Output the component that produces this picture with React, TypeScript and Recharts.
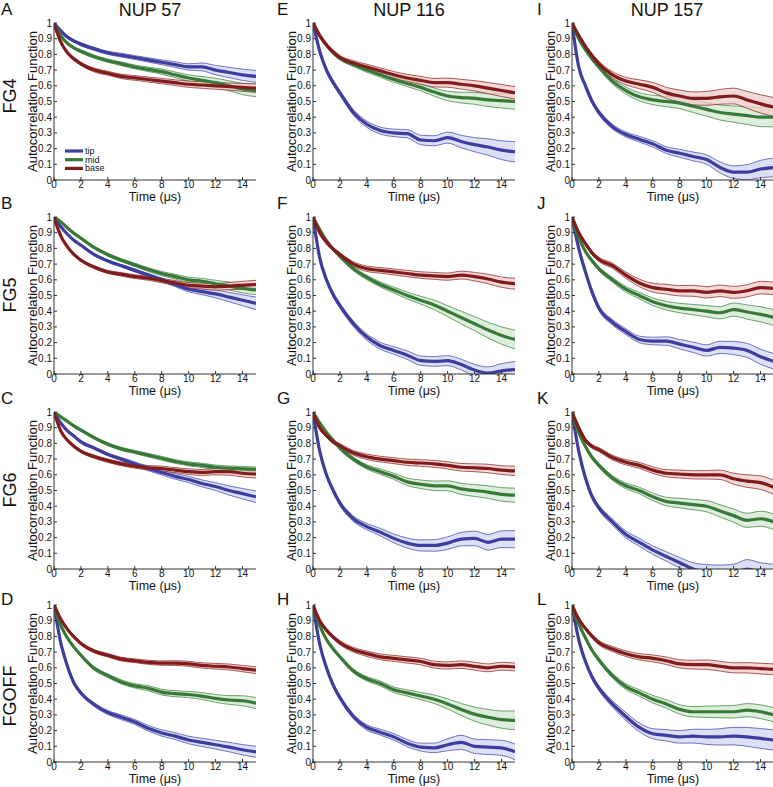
import React from 'react';
import { ComposedChart, Area, Line, XAxis, YAxis, Legend } from 'recharts';

// ---------- shared axes / labels ----------
const TIME = [0, 0.5, 1, 1.5, 2, 3, 4, 5, 6, 7, 8, 9, 10, 11, 12, 13, 14, 15];
const X_TICKS = [0, 2, 4, 6, 8, 10, 12, 14];
const Y_TICKS = [0, 0.1, 0.2, 0.3, 0.4, 0.5, 0.6, 0.7, 0.8, 0.9, 1];
const SERIES_NAMES = ['tip', 'mid', 'base'];
const COLUMN_TITLES = ['NUP 57', 'NUP 116', 'NUP 157'];
const ROW_LABELS = ['FG4', 'FG5', 'FG6', 'FGOFF'];
const PANEL_LETTERS = [['A', 'E', 'I'], ['B', 'F', 'J'], ['C', 'G', 'K'], ['D', 'H', 'L']];
const X_LABEL = 'Time (μs)';
const Y_LABEL = 'Autocorrelation Function';

// ---------- Panel A: NUP 57 / FG4 ----------
const A_tip = [1, 0.95, 0.91, 0.885, 0.865, 0.835, 0.81, 0.795, 0.78, 0.765, 0.75, 0.735, 0.72, 0.72, 0.7, 0.685, 0.67, 0.66];
const A_tipErr = [0, 0.005, 0.008, 0.008, 0.01, 0.01, 0.01, 0.012, 0.012, 0.014, 0.015, 0.018, 0.02, 0.025, 0.03, 0.033, 0.036, 0.038];
const A_mid = [1, 0.92, 0.87, 0.84, 0.82, 0.785, 0.76, 0.74, 0.72, 0.705, 0.69, 0.67, 0.65, 0.635, 0.62, 0.6, 0.58, 0.57];
const A_midErr = [0, 0.005, 0.008, 0.008, 0.01, 0.01, 0.01, 0.012, 0.012, 0.014, 0.016, 0.018, 0.02, 0.024, 0.028, 0.032, 0.036, 0.04];
const A_base = [1, 0.88, 0.81, 0.77, 0.74, 0.7, 0.68, 0.66, 0.65, 0.64, 0.63, 0.62, 0.61, 0.605, 0.6, 0.595, 0.59, 0.585];
const A_baseErr = [0, 0.006, 0.008, 0.01, 0.01, 0.012, 0.012, 0.014, 0.015, 0.016, 0.017, 0.018, 0.02, 0.021, 0.022, 0.023, 0.025, 0.027];

// ---------- Panel B: NUP 57 / FG5 ----------
const B_tip = [1, 0.94, 0.89, 0.85, 0.82, 0.76, 0.72, 0.69, 0.66, 0.63, 0.6, 0.57, 0.54, 0.525, 0.51, 0.49, 0.47, 0.45];
const B_tipErr = [0, 0.004, 0.005, 0.005, 0.006, 0.006, 0.007, 0.008, 0.009, 0.01, 0.012, 0.014, 0.017, 0.02, 0.025, 0.03, 0.035, 0.04];
const B_mid = [1, 0.97, 0.93, 0.895, 0.865, 0.805, 0.76, 0.725, 0.695, 0.665, 0.64, 0.62, 0.6, 0.59, 0.575, 0.56, 0.545, 0.535];
const B_midErr = [0, 0.004, 0.006, 0.006, 0.007, 0.008, 0.009, 0.01, 0.011, 0.012, 0.013, 0.015, 0.017, 0.019, 0.022, 0.025, 0.028, 0.03];
const B_base = [1, 0.88, 0.81, 0.76, 0.725, 0.68, 0.65, 0.635, 0.62, 0.61, 0.595, 0.58, 0.565, 0.56, 0.555, 0.56, 0.565, 0.57];
const B_baseErr = [0, 0.005, 0.007, 0.008, 0.008, 0.009, 0.01, 0.011, 0.012, 0.013, 0.014, 0.015, 0.017, 0.019, 0.021, 0.023, 0.025, 0.027];

// ---------- Panel C: NUP 57 / FG6 ----------
const C_tip = [1, 0.93, 0.88, 0.845, 0.81, 0.77, 0.73, 0.7, 0.67, 0.64, 0.615, 0.59, 0.57, 0.545, 0.525, 0.5, 0.48, 0.46];
const C_tipErr = [0, 0.005, 0.006, 0.007, 0.008, 0.008, 0.009, 0.01, 0.012, 0.014, 0.016, 0.018, 0.02, 0.022, 0.025, 0.029, 0.033, 0.037];
const C_mid = [1, 0.97, 0.94, 0.91, 0.885, 0.835, 0.795, 0.765, 0.745, 0.725, 0.705, 0.685, 0.67, 0.66, 0.648, 0.642, 0.638, 0.635];
const C_midErr = [0, 0.004, 0.006, 0.007, 0.008, 0.008, 0.009, 0.01, 0.01, 0.011, 0.012, 0.012, 0.013, 0.013, 0.014, 0.014, 0.015, 0.015];
const C_base = [1, 0.88, 0.82, 0.78, 0.75, 0.715, 0.69, 0.67, 0.655, 0.645, 0.64, 0.63, 0.62, 0.615, 0.62, 0.62, 0.61, 0.605];
const C_baseErr = [0, 0.005, 0.007, 0.008, 0.009, 0.01, 0.011, 0.012, 0.013, 0.014, 0.015, 0.016, 0.018, 0.019, 0.02, 0.022, 0.024, 0.025];

// ---------- Panel D: NUP 57 / FGOFF ----------
const D_tip = [1, 0.76, 0.61, 0.5, 0.44, 0.365, 0.315, 0.285, 0.255, 0.215, 0.185, 0.165, 0.14, 0.125, 0.11, 0.095, 0.078, 0.065];
const D_tipErr = [0, 0.008, 0.01, 0.01, 0.01, 0.012, 0.013, 0.015, 0.016, 0.018, 0.02, 0.022, 0.024, 0.026, 0.028, 0.03, 0.033, 0.035];
const D_mid = [1, 0.87, 0.79, 0.73, 0.68, 0.595, 0.55, 0.51, 0.485, 0.47, 0.445, 0.435, 0.43, 0.42, 0.405, 0.395, 0.39, 0.375];
const D_midErr = [0, 0.006, 0.008, 0.009, 0.01, 0.011, 0.012, 0.013, 0.014, 0.016, 0.018, 0.019, 0.02, 0.022, 0.025, 0.028, 0.032, 0.035];
const D_base = [1, 0.91, 0.845, 0.795, 0.755, 0.705, 0.68, 0.655, 0.645, 0.635, 0.63, 0.63, 0.625, 0.615, 0.61, 0.605, 0.595, 0.585];
const D_baseErr = [0, 0.005, 0.007, 0.008, 0.009, 0.01, 0.011, 0.012, 0.012, 0.013, 0.014, 0.015, 0.016, 0.017, 0.018, 0.019, 0.02, 0.022];

// ---------- Panel E: NUP 116 / FG4 ----------
const E_tip = [1, 0.82, 0.7, 0.62, 0.555, 0.43, 0.355, 0.315, 0.3, 0.295, 0.255, 0.25, 0.27, 0.245, 0.225, 0.21, 0.19, 0.18];
const E_tipErr = [0, 0.01, 0.012, 0.014, 0.015, 0.018, 0.02, 0.022, 0.024, 0.026, 0.03, 0.032, 0.035, 0.04, 0.045, 0.052, 0.06, 0.065];
const E_mid = [1, 0.92, 0.86, 0.81, 0.775, 0.735, 0.7, 0.67, 0.64, 0.615, 0.59, 0.56, 0.535, 0.525, 0.52, 0.51, 0.505, 0.5];
const E_midErr = [0, 0.006, 0.008, 0.009, 0.01, 0.012, 0.014, 0.016, 0.018, 0.02, 0.023, 0.026, 0.03, 0.034, 0.038, 0.042, 0.046, 0.05];
const E_base = [1, 0.92, 0.86, 0.815, 0.78, 0.745, 0.72, 0.695, 0.67, 0.65, 0.635, 0.62, 0.62, 0.61, 0.6, 0.585, 0.57, 0.555];
const E_baseErr = [0, 0.008, 0.01, 0.012, 0.013, 0.015, 0.017, 0.019, 0.021, 0.023, 0.025, 0.027, 0.029, 0.031, 0.033, 0.036, 0.038, 0.04];

// ---------- Panel F: NUP 116 / FG5 ----------
const F_tip = [1, 0.74, 0.6, 0.505, 0.435, 0.32, 0.235, 0.18, 0.15, 0.12, 0.085, 0.08, 0.085, 0.06, 0.025, 0.005, 0.02, 0.03];
const F_tipErr = [0, 0.01, 0.012, 0.014, 0.015, 0.018, 0.02, 0.022, 0.024, 0.027, 0.03, 0.031, 0.032, 0.034, 0.036, 0.04, 0.046, 0.05];
const F_mid = [1, 0.92, 0.85, 0.795, 0.75, 0.67, 0.615, 0.57, 0.535, 0.5, 0.47, 0.44, 0.4, 0.36, 0.32, 0.28, 0.245, 0.22];
const F_midErr = [0, 0.006, 0.008, 0.009, 0.01, 0.012, 0.014, 0.016, 0.019, 0.022, 0.025, 0.03, 0.035, 0.04, 0.045, 0.05, 0.055, 0.06];
const F_base = [1, 0.9, 0.84, 0.795, 0.76, 0.7, 0.67, 0.66, 0.65, 0.64, 0.63, 0.625, 0.62, 0.63, 0.62, 0.605, 0.585, 0.575];
const F_baseErr = [0, 0.008, 0.01, 0.012, 0.013, 0.015, 0.017, 0.018, 0.019, 0.02, 0.021, 0.022, 0.023, 0.025, 0.027, 0.03, 0.033, 0.035];

// ---------- Panel G: NUP 116 / FG6 ----------
const G_tip = [1, 0.75, 0.6, 0.5, 0.42, 0.32, 0.27, 0.235, 0.195, 0.165, 0.15, 0.15, 0.165, 0.19, 0.195, 0.17, 0.19, 0.19];
const G_tipErr = [0, 0.01, 0.012, 0.014, 0.015, 0.018, 0.02, 0.024, 0.028, 0.032, 0.035, 0.037, 0.04, 0.043, 0.046, 0.05, 0.053, 0.055];
const G_mid = [1, 0.93, 0.87, 0.82, 0.77, 0.7, 0.65, 0.62, 0.59, 0.555, 0.54, 0.53, 0.53, 0.51, 0.5, 0.49, 0.475, 0.47];
const G_midErr = [0, 0.006, 0.008, 0.009, 0.01, 0.012, 0.014, 0.017, 0.02, 0.024, 0.027, 0.03, 0.032, 0.035, 0.038, 0.04, 0.043, 0.045];
const G_base = [1, 0.9, 0.85, 0.81, 0.785, 0.74, 0.715, 0.7, 0.69, 0.68, 0.675, 0.67, 0.66, 0.648, 0.645, 0.64, 0.63, 0.625];
const G_baseErr = [0, 0.008, 0.01, 0.012, 0.013, 0.015, 0.017, 0.018, 0.019, 0.02, 0.021, 0.022, 0.023, 0.024, 0.025, 0.027, 0.028, 0.03];

// ---------- Panel H: NUP 116 / FGOFF ----------
const H_tip = [1, 0.75, 0.6, 0.49, 0.41, 0.29, 0.22, 0.19, 0.16, 0.12, 0.095, 0.09, 0.11, 0.125, 0.1, 0.095, 0.09, 0.065];
const H_tipErr = [0, 0.01, 0.012, 0.013, 0.014, 0.015, 0.017, 0.019, 0.021, 0.023, 0.025, 0.03, 0.038, 0.045, 0.046, 0.047, 0.048, 0.05];
const H_mid = [1, 0.87, 0.78, 0.72, 0.67, 0.58, 0.53, 0.5, 0.46, 0.44, 0.42, 0.4, 0.37, 0.335, 0.305, 0.285, 0.27, 0.265];
const H_midErr = [0, 0.006, 0.008, 0.009, 0.01, 0.012, 0.014, 0.016, 0.018, 0.02, 0.023, 0.027, 0.032, 0.038, 0.045, 0.05, 0.055, 0.06];
const H_base = [1, 0.9, 0.84, 0.795, 0.76, 0.715, 0.69, 0.67, 0.66, 0.65, 0.64, 0.62, 0.615, 0.62, 0.61, 0.6, 0.61, 0.605];
const H_baseErr = [0, 0.008, 0.01, 0.012, 0.013, 0.015, 0.017, 0.018, 0.019, 0.02, 0.021, 0.022, 0.023, 0.024, 0.025, 0.025, 0.025, 0.025];

// ---------- Panel I: NUP 157 / FG4 ----------
const I_tip = [1, 0.72, 0.6, 0.5, 0.43, 0.34, 0.29, 0.26, 0.23, 0.19, 0.17, 0.15, 0.13, 0.08, 0.05, 0.05, 0.07, 0.08];
const I_tipErr = [0, 0.01, 0.012, 0.013, 0.014, 0.015, 0.016, 0.018, 0.02, 0.022, 0.025, 0.028, 0.03, 0.035, 0.04, 0.048, 0.055, 0.06];
const I_mid = [1, 0.9, 0.83, 0.77, 0.72, 0.63, 0.57, 0.53, 0.51, 0.5, 0.49, 0.47, 0.45, 0.43, 0.42, 0.41, 0.4, 0.4];
const I_midErr = [0, 0.007, 0.01, 0.012, 0.014, 0.018, 0.022, 0.026, 0.03, 0.033, 0.036, 0.04, 0.044, 0.048, 0.052, 0.056, 0.06, 0.062];
const I_base = [1, 0.92, 0.85, 0.79, 0.74, 0.67, 0.63, 0.61, 0.59, 0.555, 0.535, 0.52, 0.52, 0.53, 0.535, 0.51, 0.485, 0.465];
const I_baseErr = [0, 0.01, 0.013, 0.015, 0.017, 0.02, 0.024, 0.028, 0.032, 0.035, 0.038, 0.041, 0.044, 0.047, 0.05, 0.054, 0.058, 0.06];

// ---------- Panel J: NUP 157 / FG5 ----------
const J_tip = [1, 0.8, 0.65, 0.52, 0.42, 0.33, 0.27, 0.22, 0.21, 0.21, 0.19, 0.17, 0.15, 0.17, 0.165, 0.15, 0.11, 0.08];
const J_tipErr = [0, 0.01, 0.012, 0.014, 0.015, 0.017, 0.019, 0.021, 0.024, 0.027, 0.03, 0.033, 0.036, 0.039, 0.042, 0.045, 0.048, 0.05];
const J_mid = [1, 0.87, 0.78, 0.72, 0.67, 0.6, 0.54, 0.5, 0.46, 0.435, 0.42, 0.41, 0.4, 0.39, 0.41, 0.395, 0.38, 0.36];
const J_midErr = [0, 0.006, 0.008, 0.01, 0.012, 0.015, 0.018, 0.021, 0.024, 0.027, 0.03, 0.033, 0.036, 0.039, 0.042, 0.045, 0.048, 0.05];
const J_base = [1, 0.9, 0.83, 0.77, 0.73, 0.69, 0.63, 0.58, 0.55, 0.54, 0.53, 0.53, 0.52, 0.53, 0.52, 0.53, 0.55, 0.545];
const J_baseErr = [0, 0.008, 0.01, 0.012, 0.014, 0.016, 0.02, 0.024, 0.028, 0.031, 0.033, 0.035, 0.036, 0.037, 0.038, 0.039, 0.04, 0.04];

// ---------- Panel K: NUP 157 / FG6 ----------
const K_tip = [1, 0.75, 0.58, 0.46, 0.39, 0.3, 0.22, 0.17, 0.12, 0.08, 0.04, 0.0, -0.02, -0.03, -0.03, 0.0, -0.02, -0.03];
const K_tipErr = [0, 0.01, 0.012, 0.014, 0.016, 0.02, 0.022, 0.025, 0.027, 0.03, 0.033, 0.04, 0.048, 0.055, 0.06, 0.06, 0.06, 0.06];
const K_mid = [1, 0.87, 0.78, 0.71, 0.66, 0.58, 0.53, 0.5, 0.46, 0.43, 0.42, 0.41, 0.4, 0.37, 0.34, 0.31, 0.32, 0.3];
const K_midErr = [0, 0.006, 0.008, 0.01, 0.012, 0.015, 0.018, 0.021, 0.024, 0.027, 0.03, 0.033, 0.036, 0.039, 0.042, 0.045, 0.048, 0.05];
const K_base = [1, 0.9, 0.82, 0.78, 0.76, 0.71, 0.68, 0.66, 0.63, 0.61, 0.605, 0.6, 0.6, 0.6, 0.575, 0.56, 0.55, 0.52];
const K_baseErr = [0, 0.008, 0.01, 0.012, 0.013, 0.015, 0.017, 0.019, 0.021, 0.023, 0.025, 0.026, 0.027, 0.03, 0.035, 0.04, 0.043, 0.045];

// ---------- Panel L: NUP 157 / FGOFF ----------
const L_tip = [1, 0.78, 0.64, 0.54, 0.47, 0.37, 0.29, 0.22, 0.18, 0.17, 0.16, 0.165, 0.16, 0.16, 0.165, 0.16, 0.15, 0.14];
const L_tipErr = [0, 0.01, 0.012, 0.014, 0.016, 0.02, 0.025, 0.028, 0.032, 0.036, 0.04, 0.044, 0.048, 0.052, 0.056, 0.06, 0.063, 0.065];
const L_mid = [1, 0.88, 0.79, 0.71, 0.65, 0.55, 0.48, 0.44, 0.4, 0.37, 0.335, 0.32, 0.32, 0.32, 0.32, 0.33, 0.32, 0.3];
const L_midErr = [0, 0.006, 0.008, 0.01, 0.012, 0.015, 0.018, 0.021, 0.024, 0.027, 0.03, 0.033, 0.036, 0.038, 0.04, 0.042, 0.044, 0.045];
const L_base = [1, 0.91, 0.85, 0.8, 0.76, 0.72, 0.69, 0.67, 0.66, 0.645, 0.625, 0.62, 0.62, 0.61, 0.6, 0.6, 0.595, 0.59];
const L_baseErr = [0, 0.008, 0.01, 0.012, 0.014, 0.016, 0.018, 0.02, 0.022, 0.024, 0.026, 0.028, 0.03, 0.031, 0.032, 0.033, 0.034, 0.035];

// ---------- styling ----------
const COLORS: Record<string, { line: string; fill: string }> = {
  tip: { line: '#3d3d9f', fill: '#cfd5f3' },
  mid: { line: '#377a37', fill: '#d2e8d2' },
  base: { line: '#821b1b', fill: '#efccc7' },
};
const FONT = '"Liberation Sans", Arial, Helvetica, sans-serif';
const TEXT = '#111';
const AXIS = '#333';

const COL_LEFT = [54, 313, 572];
const ROW_TOP = [23, 217, 412, 605];
const PLOT_W = 202;
const PLOT_H = 157;
const Y_AXIS_W = 44;
const X_AXIS_H = 33;
const M_TOP = 8;
const M_RIGHT = 2;

function buildRows(tip: number[], tipErr: number[], mid: number[], midErr: number[], base: number[], baseErr: number[]) {
  return TIME.map((t, i) => ({
    t,
    tip: tip[i],
    mid: mid[i],
    base: base[i],
    tipBand: [tip[i] - tipErr[i], tip[i] + tipErr[i]],
    midBand: [mid[i] - midErr[i], mid[i] + midErr[i]],
    baseBand: [base[i] - baseErr[i], base[i] + baseErr[i]],
  }));
}

const PANELS = [
  [buildRows(A_tip, A_tipErr, A_mid, A_midErr, A_base, A_baseErr), buildRows(E_tip, E_tipErr, E_mid, E_midErr, E_base, E_baseErr), buildRows(I_tip, I_tipErr, I_mid, I_midErr, I_base, I_baseErr)],
  [buildRows(B_tip, B_tipErr, B_mid, B_midErr, B_base, B_baseErr), buildRows(F_tip, F_tipErr, F_mid, F_midErr, F_base, F_baseErr), buildRows(J_tip, J_tipErr, J_mid, J_midErr, J_base, J_baseErr)],
  [buildRows(C_tip, C_tipErr, C_mid, C_midErr, C_base, C_baseErr), buildRows(G_tip, G_tipErr, G_mid, G_midErr, G_base, G_baseErr), buildRows(K_tip, K_tipErr, K_mid, K_midErr, K_base, K_baseErr)],
  [buildRows(D_tip, D_tipErr, D_mid, D_midErr, D_base, D_baseErr), buildRows(H_tip, H_tipErr, H_mid, H_midErr, H_base, H_baseErr), buildRows(L_tip, L_tipErr, L_mid, L_midErr, L_base, L_baseErr)],
];

function LegendBox() {
  return (
    <svg width={60} height={30} style={{ display: 'block', overflow: 'visible' }}>
      {SERIES_NAMES.map((name, i) => (
        <g key={name}>
          <line x1={0} x2={18} y1={4 + i * 8.7} y2={4 + i * 8.7} stroke={COLORS[name].line} strokeWidth={3.2} />
          <text x={20} y={4 + i * 8.7} fontSize={9} fill={TEXT} dominantBaseline="central" fontFamily={FONT}>
            {name}
          </text>
        </g>
      ))}
    </svg>
  );
}

function Panel({ data, left, top, showLegend }: { data: any[]; left: number; top: number; showLegend: boolean }) {
  const chartW = Y_AXIS_W + PLOT_W + M_RIGHT;
  const chartH = M_TOP + PLOT_H + X_AXIS_H;
  return (
    <div style={{ position: 'absolute', left: left - Y_AXIS_W, top: top - M_TOP, width: chartW, height: chartH }}>
      <ComposedChart width={chartW} height={chartH} data={data} margin={{ top: M_TOP, right: M_RIGHT, bottom: 0, left: 0 }}>
        <XAxis
          xAxisId="b"
          dataKey="t"
          type="number"
          domain={[0, 15]}
          ticks={X_TICKS}
          interval={0}
          allowDataOverflow
          orientation="bottom"
          height={X_AXIS_H}
          tickSize={-3}
          tickMargin={4}
          stroke={AXIS}
          tick={{ fontSize: 10, fill: TEXT }}
          label={{ value: X_LABEL, position: 'center', fontSize: 12.5, fill: TEXT }}
        />
        <XAxis
          xAxisId="t"
          dataKey="t"
          type="number"
          domain={[0, 15]}
          ticks={X_TICKS}
          interval={0}
          allowDataOverflow
          orientation="top"
          height={0}
          tickSize={-3}
          stroke={AXIS}
          tickFormatter={() => ''}
        />
        <YAxis
          yAxisId="l"
          type="number"
          domain={[0, 1]}
          ticks={Y_TICKS}
          interval={0}
          allowDataOverflow
          width={Y_AXIS_W}
          tickSize={-3}
          tickMargin={5}
          stroke={AXIS}
          tick={{ fontSize: 10, fill: TEXT }}
          label={{ value: Y_LABEL, position: 'center', angle: -90, fontSize: 13, fill: TEXT }}
        />
        <YAxis
          yAxisId="r"
          orientation="right"
          type="number"
          domain={[0, 1]}
          ticks={Y_TICKS}
          interval={0}
          allowDataOverflow
          width={0}
          tickSize={-3}
          stroke={AXIS}
          tickFormatter={() => ''}
        />
        {SERIES_NAMES.map((name) => (
          <Area
            key={name + 'band'}
            xAxisId="b"
            yAxisId="l"
            type="monotone"
            dataKey={name + 'Band'}
            fill={COLORS[name].fill}
            fillOpacity={0.75}
            stroke={COLORS[name].line}
            strokeWidth={0.7}
            isAnimationActive={false}
            dot={false}
            activeDot={false}
          />
        ))}
        {SERIES_NAMES.map((name) => (
          <Line
            key={name + 'line'}
            xAxisId="b"
            yAxisId="l"
            type="monotone"
            dataKey={name}
            stroke={COLORS[name].line}
            strokeWidth={3.2}
            dot={false}
            activeDot={false}
            isAnimationActive={false}
          />
        ))}
        {showLegend && (
          <Legend
            layout="vertical"
            align="center"
            verticalAlign="middle"
            wrapperStyle={{ left: 55, top: 132, width: 60, height: 30 }}
            content={() => <LegendBox />}
          />
        )}
      </ComposedChart>
    </div>
  );
}

const LETTER_X = [1, 277, 537];
const LETTER_BASELINE = [15, 209, 404, 605];
const TITLE_X = [150, 409, 667];
const ROW_LABEL_Y = [96, 295, 490, 696];

export default function App() {
  return (
    <div
      style={{
        position: 'absolute',
        left: 0,
        top: 0,
        width: 773,
        height: 787,
        overflow: 'hidden',
        background: '#fff',
        fontFamily: FONT,
      }}
    >
      {PANELS.map((row, r) =>
        row.map((data, c) => (
          <Panel key={r + '-' + c} data={data} left={COL_LEFT[c]} top={ROW_TOP[r]} showLegend={r === 0 && c === 0} />
        ))
      )}
      <svg width={773} height={787} style={{ position: 'absolute', left: 0, top: 0, pointerEvents: 'none' }}>
        {COLUMN_TITLES.map((t, c) => (
          <text key={t} x={TITLE_X[c]} y={16} textAnchor="middle" fontSize={18} fill={TEXT} fontFamily={FONT}>
            {t}
          </text>
        ))}
        {PANEL_LETTERS.map((row, r) =>
          row.map((letter, c) => (
            <text key={letter} x={LETTER_X[c]} y={LETTER_BASELINE[r]} fontSize={17} fill={TEXT} fontFamily={FONT}>
              {letter}
            </text>
          ))
        )}
        {ROW_LABELS.map((lab, r) => (
          <text
            key={lab}
            x={10}
            y={ROW_LABEL_Y[r]}
            textAnchor="middle"
            dominantBaseline="central"
            fontSize={18}
            fill={TEXT}
            fontFamily={FONT}
            transform={`rotate(-90, 10, ${ROW_LABEL_Y[r]})`}
          >
            {lab}
          </text>
        ))}
      </svg>
    </div>
  );
}
